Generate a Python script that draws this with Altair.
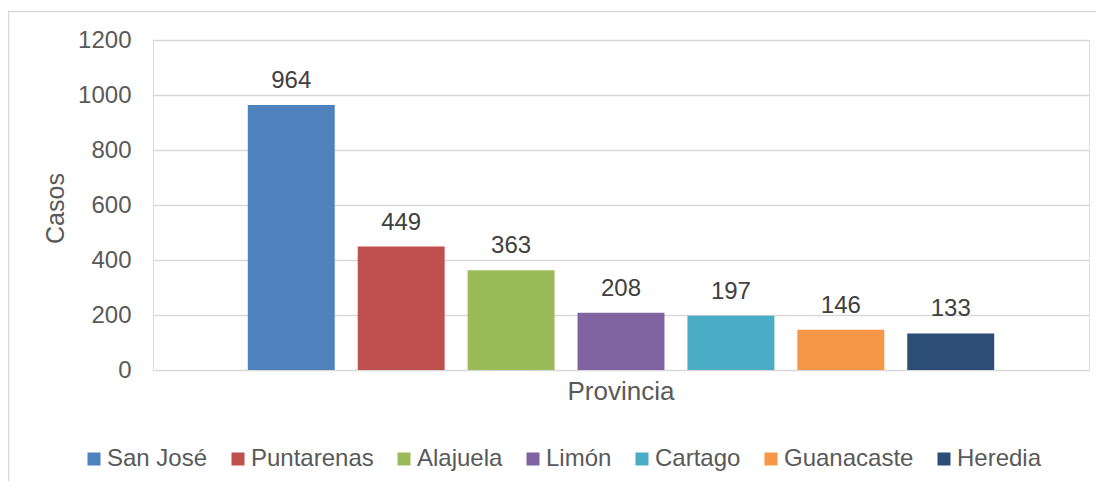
import altair as alt
import pandas as pd

provincias = ["San José", "Puntarenas", "Alajuela", "Limón", "Cartago", "Guanacaste", "Heredia"]
casos = [964, 449, 363, 208, 197, 146, 133]
colores = ["#4F81BD", "#C0504D", "#9BBB59", "#8064A2", "#4BACC6", "#F79646", "#2C4D75"]
categoria = "Provincia"
y_ticks = [0, 200, 400, 600, 800, 1000, 1200]

df = pd.DataFrame({
    "cat": [categoria] * len(provincias),
    "prov": provincias,
    "casos": casos,
})

FONT = "Liberation Sans"
W, H = 936, 330

x_enc = alt.X("cat:N", title=None,
              scale=alt.Scale(paddingInner=0, paddingOuter=0.127),
              axis=alt.Axis(domain=False, ticks=False, labelAngle=0,
                            labelFontSize=26, labelColor="#595959",
                            labelPadding=8, labelFont=FONT))
xo_enc = alt.XOffset("prov:N", sort=provincias,
                     scale=alt.Scale(paddingInner=0.209, paddingOuter=0))
y_enc = alt.Y("casos:Q", title="Casos",
              scale=alt.Scale(domain=[0, 1200], nice=False),
              axis=alt.Axis(values=y_ticks, format="d", domain=False, ticks=False,
                            grid=True, gridColor="#d9d9d9", gridWidth=1.5,
                            labelFontSize=24, labelColor="#595959",
                            labelPadding=22, labelFont=FONT,
                            titleFontSize=25, titleColor="#595959",
                            titleFontWeight="normal", titleFont=FONT,
                            titleAngle=-90, titleBaseline="alphabetic",
                            titleX=-90, titleY=H / 2 + 3))

base = alt.Chart(df)

bars = base.mark_bar().encode(
    x=x_enc,
    xOffset=xo_enc,
    y=y_enc,
    color=alt.Color("prov:N", sort=provincias,
                    scale=alt.Scale(domain=provincias, range=colores),
                    legend=alt.Legend(title=None, orient="none",
                                      legendX=-71, legendY=407,
                                      direction="horizontal", columns=7,
                                      symbolType="square", symbolSize=169,
                                      symbolStrokeWidth=0, symbolOpacity=1,
                                      labelFontSize=24, labelColor="#595959",
                                      labelFont=FONT, labelOffset=1,
                                      labelLimit=400, columnPadding=18)),
)

labels = base.mark_text(baseline="alphabetic", dy=-17, fontSize=24,
                        color="#404040", font=FONT).encode(
    x=x_enc,
    xOffset=xo_enc,
    y=alt.Y("casos:Q"),
    text=alt.Text("casos:Q"),
)

border = alt.Chart(pd.DataFrame({"a": [0]})).mark_rect(
    fill=None, stroke="#d9d9d9", strokeWidth=1.5
).encode(
    x=alt.value(-144.5), x2=alt.value(W + 60),
    y=alt.value(-28.5), y2=alt.value(H + 160),
)

chart = alt.layer(border, bars, labels).properties(
    width=W, height=H,
    autosize=alt.AutoSizeParams(type="none"),
    padding={"left": 145, "top": 32, "right": 7, "bottom": 111},
).configure_view(stroke=None).configure(font=FONT, background="white")

chart.save("out.html", embed_options={"renderer": "svg", "actions": False})
